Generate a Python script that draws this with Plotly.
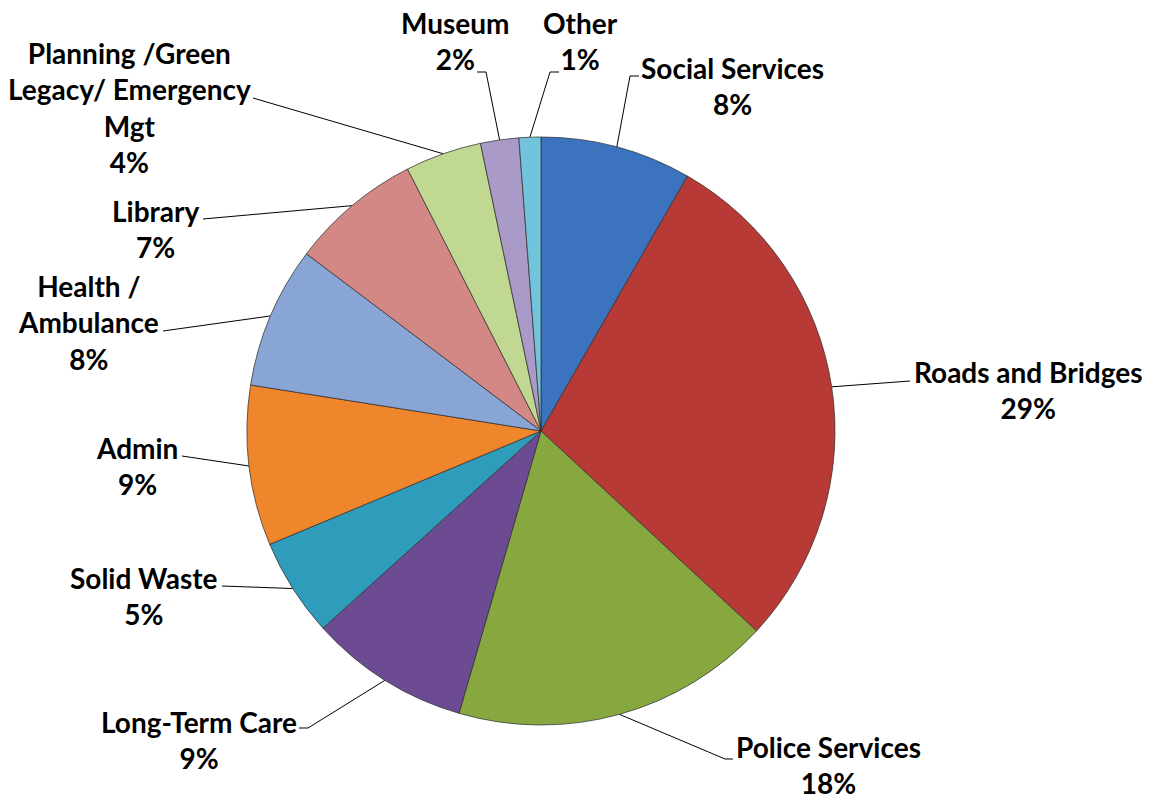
import math
import plotly.graph_objects as go

# ---------------- data ----------------
categories = ["Social Services", "Roads and Bridges", "Police Services", "Long-Term Care",
              "Solid Waste", "Admin", "Health / Ambulance", "Library",
              "Planning /Green Legacy/ Emergency Mgt", "Museum", "Other"]
values = [8.3, 28.6, 17.6, 8.8, 5.4, 8.8, 7.8, 7.2, 4.2, 2.1, 1.2]
display_names = ["Social Services", "Roads and Bridges", "Police Services", "Long-Term Care",
                 "Solid Waste", "Admin", "Health /<br>Ambulance", "Library",
                 "Planning /Green<br>Legacy/ Emergency<br>Mgt", "Museum", "Other"]

# ---------------- style / layout ----------------
colors = ["#3b73bf", "#b83a36", "#87a83f", "#6d4b93", "#2f9cbb", "#f0862c",
          "#88a5d5", "#d48885", "#c1d893", "#a99ac7", "#72c4dc"]

W, H = 1155, 804
CX, CY, R = 541, 431, 294

# label block centres and leader-line end points (pixel layout)
label_centers = [(732, 86), (1028, 390), (828, 765), (199, 740), (144, 596), (137, 466),
                 (88, 322), (155, 229), (129, 107), (455, 41), (580, 41)]
leader_ends = [
    [(630, 76), (639, 76)],
    [(910, 381)],
    [(725, 759), (733, 759)],
    [(308, 728), (299, 728)],
    [(222, 586)],
    [(182, 456)],
    [(163, 331)],
    [(203, 219)],
    [(253, 98)],
    [(486, 72), (477, 72)],
    [(550, 72), (559, 72)],
]

fig = go.Figure()

fig.add_trace(go.Pie(
    labels=categories, values=values, sort=False, direction="clockwise", rotation=0,
    marker=dict(colors=colors, line=dict(color="rgba(50,50,50,0.75)", width=1)),
    textinfo="none", hoverinfo="label+percent", showlegend=False,
    domain=dict(x=[(CX - R) / W, (CX + R) / W], y=[(H - CY - R) / H, (H - CY + R) / H]),
))

total = sum(values)
cum = 0.0
annotations = []
for i, v in enumerate(values):
    theta = 2 * math.pi * (cum + v / 2) / total
    cum += v
    ex = CX + R * math.sin(theta)
    ey = CY - R * math.cos(theta)
    xs = [ex] + [p[0] for p in leader_ends[i]]
    ys = [ey] + [p[1] for p in leader_ends[i]]
    fig.add_trace(go.Scatter(x=xs, y=ys, mode="lines", line=dict(color="black", width=1),
                             hoverinfo="skip", showlegend=False))
    pct = round(v / total * 100)
    lx, ly = label_centers[i]
    annotations.append(dict(
        x=lx, y=ly, xref="x", yref="y", showarrow=False, xanchor="center", yanchor="middle",
        align="center", text=f"<b>{display_names[i]}<br>{pct}%</b>",
        font=dict(family="Lato", size=28, color="black"),
    ))

fig.update_layout(
    width=W, height=H, autosize=False,
    margin=dict(l=0, r=0, t=0, b=0),
    paper_bgcolor="white", plot_bgcolor="white",
    xaxis=dict(range=[0, W], visible=False, fixedrange=True),
    yaxis=dict(range=[H, 0], visible=False, fixedrange=True),
    annotations=annotations,
)

fig.write_html("out.html")
